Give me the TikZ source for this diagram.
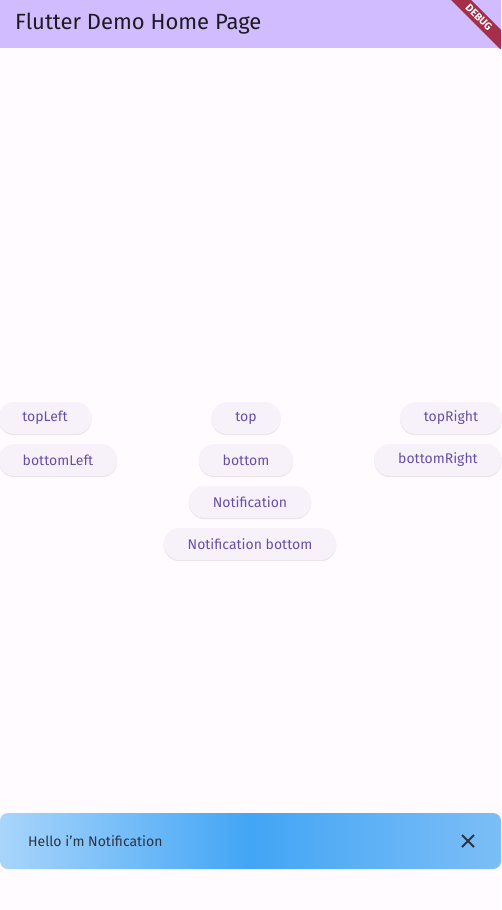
\documentclass[tikz,border=0pt]{standalone}
\usepackage{fontspec}
\setmainfont{Fira Sans}
\usetikzlibrary{shadows}
\definecolor{pagebg}{RGB}{255,251,254}
\definecolor{barbg}{RGB}{208,188,255}
\definecolor{titletext}{RGB}{29,27,32}
\definecolor{ribbon}{RGB}{163,48,72}
\definecolor{btnfill}{RGB}{247,242,250}
\definecolor{btntext}{RGB}{103,80,164}
\definecolor{nleft}{RGB}{168,213,251}
\definecolor{nmid}{RGB}{66,165,245}
\definecolor{nright}{RGB}{124,190,246}
\definecolor{ntext}{RGB}{45,52,66}
\tikzset{
  btn/.style={rounded corners=16pt, fill=btnfill, text=btntext,
    minimum height=32pt, inner xsep=24pt, inner ysep=0pt,
    font=\fontsize{14}{16}\selectfont,
    drop shadow={opacity=0.18, shadow xshift=0pt, shadow yshift=-1.2pt}},
}
\begin{document}
\begin{tikzpicture}[x=1pt, y=-1pt]
\useasboundingbox (0,0) rectangle (501,910);
\fill[pagebg] (0,0) rectangle (501,910);
% app bar
\fill[barbg] (0,0) rectangle (501,48);
\node[anchor=base west, inner sep=0pt, text=titletext, font=\fontsize{22}{24}\selectfont] (title) at (15,29.5) {Flutter Demo Home Page};
% debug ribbon
\begin{scope}
\clip (0,0) rectangle (501,48);
\fill[ribbon] (451,0) -- (471,0) -- (501,30) -- (501,50) -- cycle;
\end{scope}
\node[rotate=-45, text=white, inner sep=0pt, font=\fontsize{10.5}{11}\bfseries\selectfont] (debug) at (479,17.5) {DEBUG};
% buttons
\node[btn] (topLeft) at (45,418) {topLeft};
\node[btn] (top) at (246,418) {top};
\node[btn] (topRight) at (451,418) {topRight};
\node[btn] (bottomLeft) at (58,460) {bottomLeft};
\node[btn] (bottom) at (246,460) {bottom};
\node[btn] (bottomRight) at (438,460) {bottomRight};
\node[btn] (notif) at (250,502) {Notification};
\node[btn] (notifBottom) at (250,544) {Notification bottom};
% notification
\shade[rounded corners=8pt, left color=nleft, right color=nright, middle color=nmid] (0,813) rectangle (501,869);
\node[anchor=west, inner sep=0pt, text=ntext, font=\fontsize{14}{16}\selectfont] (hello) at (28,841) {Hello i'm Notification};
\coordinate (close) at (468,841);
\draw[ntext, line width=1.8pt] ([shift={(-6,-6)}]close) -- ([shift={(6,6)}]close);
\draw[ntext, line width=1.8pt] ([shift={(-6,6)}]close) -- ([shift={(6,-6)}]close);
\end{tikzpicture}
\end{document}
